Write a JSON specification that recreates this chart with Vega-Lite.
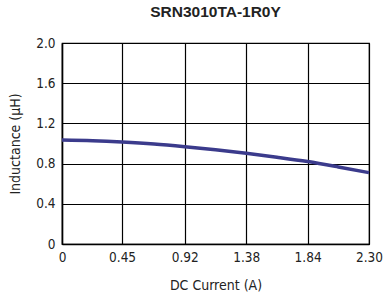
{
  "$schema": "https://vega.github.io/schema/vega-lite/v6.json",
  "autosize": "none",
  "padding": {"left": 62, "top": 43, "right": 14, "bottom": 52},
  "width": 307,
  "height": 201,
  "background": "white",
  "title": {"text": "SRN3010TA-1R0Y", "font": "Liberation Sans", "fontSize": 15.5, "fontWeight": "bold", "color": "#222222", "offset": 16, "anchor": "middle"},
  "config": {
    "view": {"stroke": "black", "strokeWidth": 1.2},
    "axis": {"labelFont": "DejaVu Sans Condensed, Liberation Sans", "titleFont": "DejaVu Sans Condensed, Liberation Sans", "labelFontSize": 13.5, "titleFontSize": 14, "labelColor": "#222222", "titleColor": "#222222", "titleFontWeight": "normal", "gridColor": "black", "gridOpacity": 1, "gridWidth": 1.2, "domainColor": "black", "domainWidth": 1.5, "ticks": false}
  },
  "data": {"values": [
    {"x": 0, "y": 1.035},
    {"x": 0.23, "y": 1.028},
    {"x": 0.45, "y": 1.015},
    {"x": 0.69, "y": 0.995},
    {"x": 0.92, "y": 0.968},
    {"x": 1.15, "y": 0.937},
    {"x": 1.38, "y": 0.902},
    {"x": 1.61, "y": 0.863},
    {"x": 1.84, "y": 0.82},
    {"x": 2.07, "y": 0.767},
    {"x": 2.30, "y": 0.71}
  ]},
  "mark": {"type": "line", "color": "#3b3b8c", "strokeWidth": 3.5, "interpolate": "monotone"},
  "encoding": {
    "x": {"field": "x", "type": "quantitative", "scale": {"domain": [0, 2.3], "nice": false, "zero": false},
      "axis": {"values": [0, 0.45, 0.92, 1.38, 1.84, 2.3], "labelExpr": "datum.value == 0 ? '0' : format(datum.value, '.2f')", "title": "DC Current (A)", "labelPadding": 6, "titleY": 34, "labelFlush": false}},
    "y": {"field": "y", "type": "quantitative", "scale": {"domain": [0, 2.0], "nice": false},
      "axis": {"values": [0, 0.4, 0.8, 1.2, 1.6, 2.0], "labelExpr": "datum.value == 0 ? '0' : format(datum.value, '.1f')", "title": "Inductance (μH)", "labelPadding": 7, "titleX": -40}}
  }
}
